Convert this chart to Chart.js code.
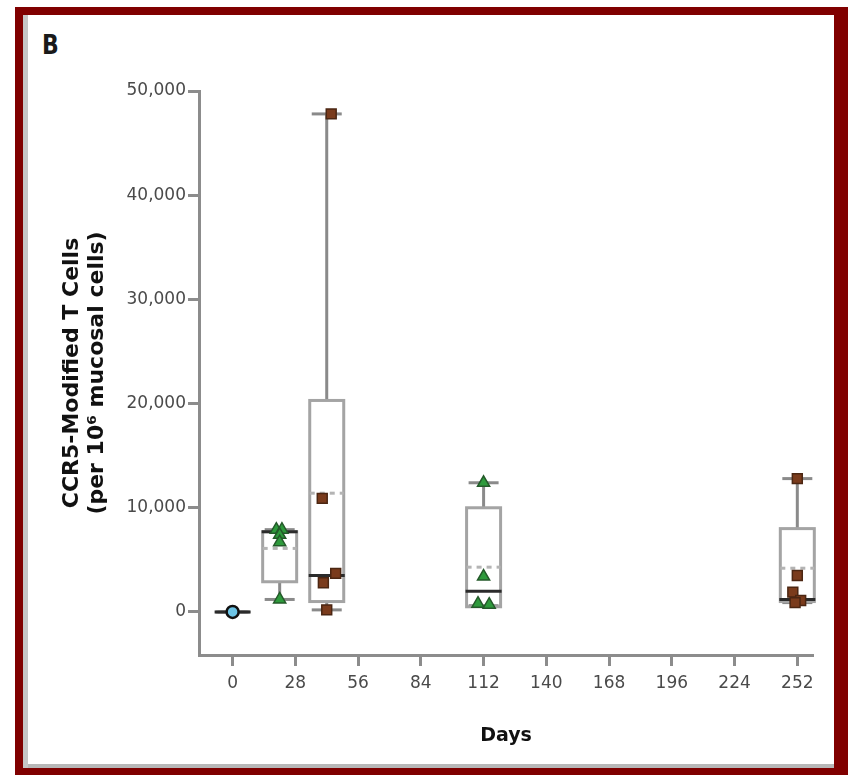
<!DOCTYPE html>
<html>
<head>
<meta charset="utf-8">
<script src="https://cdn.jsdelivr.net/npm/chart.js@4.4.1/dist/chart.umd.min.js"></script>
<style>
	body { margin: 0; background: #fff; }
	#frame {
		position: absolute; left: 15px; top: 7px;
		width: 811px; height: 753px;
		border-style: solid; border-color: #800000;
		border-width: 8px 14px 7px 8px;
		box-shadow: inset 5px 0 0 #c6c6c6, inset 0 -4px 0 #b8b8b8;
	}
	#panel {
		position: absolute; left: 42px; top: 30px;
		font: bold 22px "DejaVu Sans", sans-serif; color: #1a1a1a;
		transform: scaleY(1.2); transform-origin: top left;
	}
	#wrap { position: absolute; left: 0; top: 0; width: 850px; height: 775px; }
</style>
</head>
<body>
<div id="frame"></div>
<div id="panel">B</div>
<div id="wrap"><canvas id="chart" width="850" height="775"></canvas></div>
<script>
// axis ticks
const xTicks = [0, 28, 56, 84, 112, 140, 168, 196, 224, 252];
const yTicks = [0, 10000, 20000, 30000, 40000, 50000];

// box summaries, one per visit day
const boxDays     = [0, 21, 42, 112, 252];
const whiskerLow  = [0, 1200, 200, 600, 900];
const boxQ1       = [0, 2900, 1000, 500, 1000];
const boxMedian   = [0, 7700, 3500, 2000, 1200];
const boxMean     = [0, 6100, 11400, 4300, 4200];
const boxQ3       = [0, 7700, 20300, 10000, 8000];
const whiskerHigh = [0, 7900, 47800, 12400, 12800];

// individual participants
const greenDays   = [19.5, 22, 21, 21, 21, 112, 112, 109.5, 114.5];
const greenValues = [7900, 7900, 7400, 6700, 1200, 12400, 3400, 800, 700];
const brownDays   = [44, 40, 46, 40.5, 42, 252, 252, 250, 253.5, 251];
const brownValues = [47800, 10900, 3700, 2800, 200, 12800, 3500, 1900, 1100, 900];
const blueDays    = [0];
const blueValues  = [0];

const pts = (xs, ys) => xs.map((d, i) => ({ x: d, y: ys[i] }));

const AXIS = '#8c8c8c';
const tickFont = { family: 'DejaVu Sans', size: 17 };

const boxPlugin = {
	id: 'boxes',
	beforeDatasetsDraw(chart) {
		const { ctx, scales: { x, y } } = chart;
		const half = 17, cap = 15;
		const line = (x1, y1, x2, y2) => {
			ctx.beginPath(); ctx.moveTo(x1, y1); ctx.lineTo(x2, y2); ctx.stroke();
		};
		ctx.save();
		ctx.lineWidth = 3;
		boxDays.forEach((d, i) => {
			const cx = x.getPixelForValue(d);
			const lo = y.getPixelForValue(whiskerLow[i]);
			const q1 = y.getPixelForValue(boxQ1[i]);
			const med = y.getPixelForValue(boxMedian[i]);
			const mean = y.getPixelForValue(boxMean[i]);
			const q3 = y.getPixelForValue(boxQ3[i]);
			const hi = y.getPixelForValue(whiskerHigh[i]);

			// whiskers + caps
			ctx.strokeStyle = '#8a8a8a';
			line(cx, q3, cx, hi);
			line(cx, q1, cx, lo);
			line(cx - cap, hi, cx + cap, hi);
			line(cx - cap, lo, cx + cap, lo);

			// box
			ctx.strokeStyle = '#a4a4a4';
			ctx.strokeRect(cx - half, q3, half * 2, q1 - q3);

			// mean
			ctx.setLineDash([5, 5]);
			ctx.strokeStyle = '#b4b4b4';
			line(cx - half, mean, cx + half, mean);
			ctx.setLineDash([]);

			// median
			ctx.strokeStyle = '#2b2b2b';
			line(cx - half - 1, med, cx + half + 1, med);
		});
		ctx.restore();
	}
};

new Chart(document.getElementById('chart'), {
	type: 'scatter',
	data: {
		datasets: [
			{
				data: pts(greenDays, greenValues),
				pointStyle: 'triangle', pointRadius: 7,
				backgroundColor: '#2e9a3c', borderColor: '#245a2a', borderWidth: 1.5
			},
			{
				data: pts(brownDays, brownValues),
				pointStyle: 'rect', pointRadius: 7,
				backgroundColor: '#7a3b1c', borderColor: '#4b2612', borderWidth: 1.5
			},
			{
				data: pts(blueDays, blueValues),
				pointStyle: 'circle', pointRadius: 6,
				backgroundColor: '#6cc4e6', borderColor: '#111', borderWidth: 2.5
			}
		]
	},
	options: {
		responsive: false,
		animation: false,
		layout: { padding: { left: 55, right: 37, top: 91, bottom: 20 } },
		plugins: { legend: { display: false }, tooltip: { enabled: false } },
		scales: {
			x: {
				type: 'linear', min: -15, max: 259,
				afterBuildTicks: s => { s.ticks = xTicks.map(v => ({ value: v })); },
				afterFit: s => { s.height = 100; },
				grid: { drawOnChartArea: false, tickLength: 11, tickWidth: 3, tickColor: AXIS },
				border: { color: AXIS, width: 3 },
				ticks: { font: tickFont, color: '#4a4a4a', padding: 7 },
				title: {
					display: true, text: 'Days', color: '#111',
					font: { family: 'DejaVu Sans', size: 19, weight: 'bold', lineHeight: 1.2 },
					padding: { top: 0, bottom: 8 }
				}
			},
			y: {
				type: 'linear', min: -4130, max: 50000,
				afterBuildTicks: s => { s.ticks = yTicks.map(v => ({ value: v })); },
				afterFit: s => { s.width = 144; },
				grid: { drawOnChartArea: false, tickLength: 11, tickWidth: 3, tickColor: AXIS },
				border: { color: AXIS, width: 3 },
				ticks: {
					font: tickFont, color: '#4a4a4a', padding: 2,
					callback: v => v.toLocaleString('en-US')
				},
				title: {
					display: true,
					text: ['CCR5-Modified T Cells', '(per 10\u2076 mucosal cells)'],
					color: '#111',
					font: { family: 'DejaVu Sans', size: 22, weight: 'bold', lineHeight: 25 / 22 },
					padding: { top: 4.5, bottom: 0 }
				}
			}
		}
	},
	plugins: [boxPlugin]
});
</script>
</body>
</html>
